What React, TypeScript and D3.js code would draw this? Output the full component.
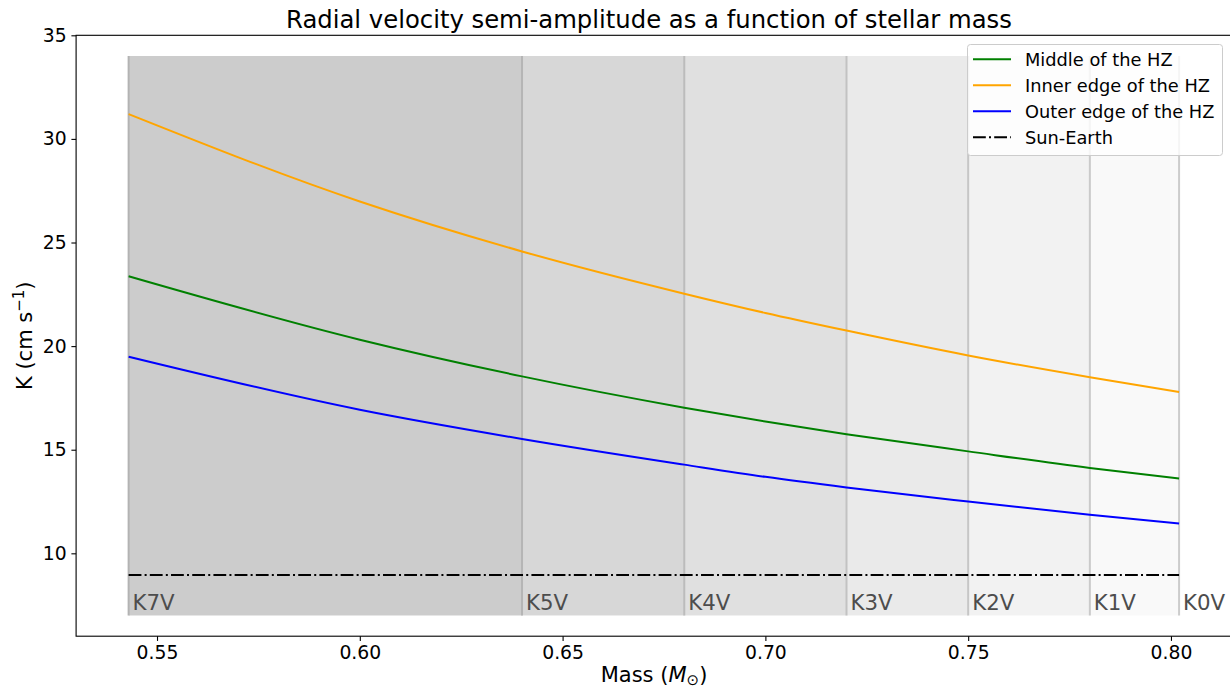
import React, { useRef, useEffect } from 'react';
import * as d3 from 'd3';

const masses = [0.543, 0.6, 0.64, 0.68, 0.7, 0.72, 0.75, 0.78, 0.802];
const innerEdge = [31.2, 26.98, 24.57, 22.53, 21.6, 20.75, 19.55, 18.5, 17.79];
const middleHZ = [23.37, 20.31, 18.54, 17.03, 16.36, 15.75, 14.92, 14.12, 13.61];
const outerEdge = [19.49, 16.93, 15.52, 14.28, 13.69, 13.18, 12.5, 11.86, 11.44];
const sunEarthK = 8.95;

// spectral type boundaries
const spectralTypes = ['K7V', 'K5V', 'K4V', 'K3V', 'K2V', 'K1V', 'K0V'];
const spectralMasses = [0.543, 0.64, 0.68, 0.72, 0.75, 0.78, 0.802];
const bandColors = ['#cccccc', '#d7d7d7', '#e0e0e0', '#eaeaea', '#f2f2f2', '#f9f9f9'];
const edgeColors = ['#b3b3b3', '#b5b5b5', '#bcbcbc', '#c2c2c2', '#c6c6c6', '#cacaca', '#cccccc'];

const xTicks = [0.55, 0.6, 0.65, 0.7, 0.75, 0.8];
const yTicks = [10, 15, 20, 25, 30, 35];

const legendItems = [
    { label: 'Middle of the HZ', color: '#008000', dash: null },
    { label: 'Inner edge of the HZ', color: '#ffa500', dash: null },
    { label: 'Outer edge of the HZ', color: '#0000ff', dash: null },
    { label: 'Sun-Earth', color: '#000000', dash: '12.8,3.2,2,3.2' },
];

const App = () => {
    const svgRef = useRef(null);

    useEffect(() => {
        const svg = d3.select(svgRef.current);
        svg.selectAll('*').remove();

        const width = 1230;
        const height = 691;
        const font = 'DejaVu Sans, sans-serif';

        const x = d3.scaleLinear().domain([0.53005, 0.81495]).range([76.1, 1231.6]);
        const y = d3.scaleLinear().domain([6, 35]).range([636.2, 35.3]);

        svg.attr('width', width).attr('height', height).style('display', 'block');
        svg.append('rect').attr('width', width).attr('height', height).attr('fill', '#fff');

        // spectral bands
        const bands = svg.append('g');
        for (let i = 0; i < spectralMasses.length - 1; i++) {
            bands.append('rect')
                .attr('x', x(spectralMasses[i]))
                .attr('y', y(34))
                .attr('width', x(spectralMasses[i + 1]) - x(spectralMasses[i]))
                .attr('height', y(7) - y(34))
                .attr('fill', bandColors[i]);
        }
        spectralMasses.forEach((m, i) => {
            bands.append('line')
                .attr('x1', x(m)).attr('x2', x(m))
                .attr('y1', y(34)).attr('y2', y(7))
                .attr('stroke', edgeColors[i])
                .attr('stroke-width', 2);
            bands.append('text')
                .attr('x', x(m) + 4)
                .attr('y', y(7) - 5)
                .attr('font-family', font)
                .attr('font-size', 21.3)
                .attr('fill', '#4d4d4d')
                .text(spectralTypes[i]);
        });

        // curves
        const line = d3.line()
            .x(d => x(d[0]))
            .y(d => y(d[1]))
            .curve(d3.curveMonotoneX);

        const series = [
            { values: middleHZ, color: '#008000' },
            { values: innerEdge, color: '#ffa500' },
            { values: outerEdge, color: '#0000ff' },
        ];
        series.forEach(s => {
            svg.append('path')
                .datum(masses.map((m, i) => [m, s.values[i]]))
                .attr('d', line)
                .attr('fill', 'none')
                .attr('stroke', s.color)
                .attr('stroke-width', 2);
        });

        svg.append('line')
            .attr('x1', x(masses[0])).attr('x2', x(masses[masses.length - 1]))
            .attr('y1', y(sunEarthK)).attr('y2', y(sunEarthK))
            .attr('stroke', '#000')
            .attr('stroke-width', 2)
            .attr('stroke-dasharray', '12.8,3.2,2,3.2');

        // spines
        const [x0, x1] = x.range();
        const [y0, y1] = y.range();
        svg.append('rect')
            .attr('x', x0).attr('y', y1)
            .attr('width', x1 - x0).attr('height', y0 - y1)
            .attr('fill', 'none').attr('stroke', '#000').attr('stroke-width', 1.1);

        // axes
        svg.append('g')
            .attr('transform', `translate(0,${y0})`)
            .call(d3.axisBottom(x).tickValues(xTicks).tickFormat(d3.format('.2f')).tickSize(4.7).tickPadding(4.7).tickSizeOuter(0))
            .call(g => g.select('.domain').remove())
            .call(g => g.selectAll('text').attr('font-size', 18.8).attr('font-family', font).attr('fill', '#000'))
            .call(g => g.selectAll('line').attr('stroke', '#000').attr('stroke-width', 1.1));

        svg.append('g')
            .attr('transform', `translate(${x0},0)`)
            .call(d3.axisLeft(y).tickValues(yTicks).tickSize(4.7).tickPadding(4.7).tickSizeOuter(0))
            .call(g => g.select('.domain').remove())
            .call(g => g.selectAll('text').attr('font-size', 18.8).attr('font-family', font).attr('fill', '#000'))
            .call(g => g.selectAll('line').attr('stroke', '#000').attr('stroke-width', 1.1));

        // title and labels
        svg.append('text')
            .attr('x', 649)
            .attr('y', 28)
            .attr('text-anchor', 'middle')
            .attr('font-family', font)
            .attr('font-size', 24.3)
            .text('Radial velocity semi-amplitude as a function of stellar mass');

        const xl = svg.append('text')
            .attr('x', 654)
            .attr('y', 682)
            .attr('text-anchor', 'middle')
            .attr('font-family', font)
            .attr('font-size', 21);
        xl.append('tspan').text('Mass (');
        xl.append('tspan').attr('font-style', 'italic').text('M');
        xl.append('tspan').attr('font-size', 15).attr('dy', 3).text('⊙');
        xl.append('tspan').attr('dy', -3).text(')');

        const yl = svg.append('text')
            .attr('transform', `translate(32,${(y0 + y1) / 2}) rotate(-90)`)
            .attr('text-anchor', 'middle')
            .attr('font-family', font)
            .attr('font-size', 21);
        yl.append('tspan').text('K (cm s');
        yl.append('tspan').attr('font-size', 15).attr('dy', -8).text('−1');
        yl.append('tspan').attr('dy', 8).text(')');

        // legend
        const lg = svg.append('g');
        lg.append('rect')
            .attr('x', 967.5).attr('y', 44.5)
            .attr('width', 255).attr('height', 111)
            .attr('rx', 3)
            .attr('fill', '#fff').attr('fill-opacity', 0.8)
            .attr('stroke', '#cccccc').attr('stroke-width', 1);
        legendItems.forEach((item, i) => {
            const cy = 59.3 + i * 26;
            lg.append('line')
                .attr('x1', 973).attr('x2', 1011)
                .attr('y1', cy).attr('y2', cy)
                .attr('stroke', item.color)
                .attr('stroke-width', 2)
                .attr('stroke-dasharray', item.dash);
            lg.append('text')
                .attr('x', 1025)
                .attr('y', cy)
                .attr('dy', '0.35em')
                .attr('font-family', font)
                .attr('font-size', 17.8)
                .text(item.label);
        });
    }, []);

    return (
        <div>
            <style>{'body { margin: 0; }'}</style>
            <svg ref={svgRef}></svg>
        </div>
    );
};

export default App;
